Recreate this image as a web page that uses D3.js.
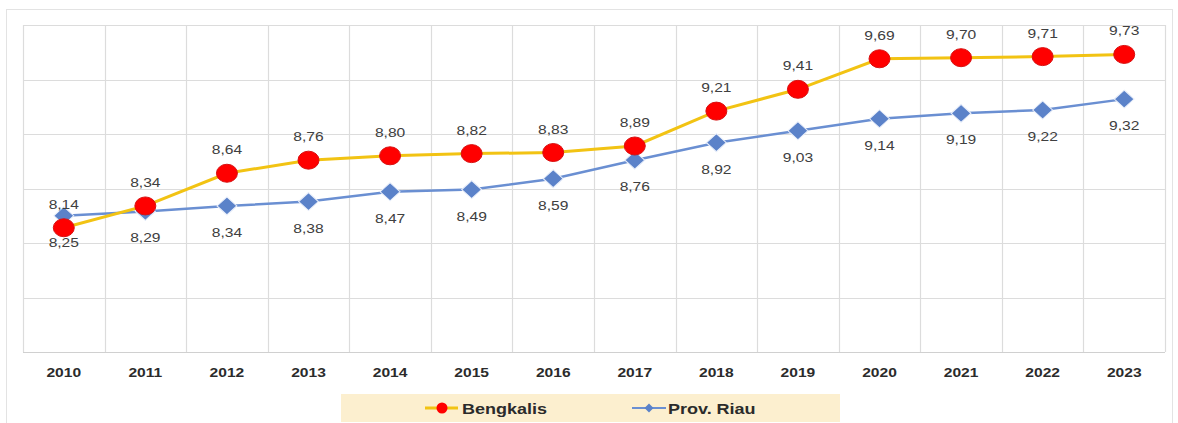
<!DOCTYPE html>
<html>
<head>
<meta charset="utf-8">
<script src="https://cdn.jsdelivr.net/npm/d3@7/dist/d3.min.js"></script>
<style>
  html, body { margin: 0; padding: 0; background: #ffffff; }
  svg { display: block; }
</style>
</head>
<body>
<svg id="chart" width="1178" height="423"></svg>
<script>
// Years on the x axis
const years = ["2010","2011","2012","2013","2014","2015","2016","2017","2018","2019","2020","2021","2022","2023"];
// Series values
const bengkalis = [8.14, 8.34, 8.64, 8.76, 8.80, 8.82, 8.83, 8.89, 9.21, 9.41, 9.69, 9.70, 9.71, 9.73];
const riau      = [8.25, 8.29, 8.34, 8.38, 8.47, 8.49, 8.59, 8.76, 8.92, 9.03, 9.14, 9.19, 9.22, 9.32];
// Hidden value axis gridlines
const yTicks = [7.0, 7.5, 8.0, 8.5, 9.0, 9.5, 10.0];
const seriesNames = ["Bengkalis", "Prov. Riau"];

const svg = d3.select("#chart");
const plot = { left: 23, right: 1165, top: 25, bottom: 352 };
const SX = 1.2; // horizontal text stretch

const x = d3.scaleBand().domain(years).range([plot.left, plot.right]).padding(0);
const y = d3.scaleLinear().domain([7, 10]).range([plot.bottom, plot.top]);
const cx = d => x(d) + x.bandwidth() / 2;
const fmt = v => d3.format(".2f")(v).replace(".", ",");

// outer frame
svg.append("rect").attr("x", 6.5).attr("y", 9.5).attr("width", 1166).attr("height", 430)
  .attr("fill", "none").attr("stroke", "#e3e3e3").attr("stroke-width", 1);

// horizontal gridlines
svg.append("g").selectAll("line").data(yTicks).join("line")
  .attr("x1", plot.left).attr("x2", plot.right)
  .attr("y1", d => Math.round(y(d)) + 0.5).attr("y2", d => Math.round(y(d)) + 0.5)
  .attr("stroke", "#dcdcdc").attr("stroke-width", 1.2);

// vertical category gridlines
const bounds = years.map(d => x(d)).concat([plot.right]);
svg.append("g").selectAll("line").data(bounds).join("line")
  .attr("x1", d => Math.round(d) + 0.5).attr("x2", d => Math.round(d) + 0.5)
  .attr("y1", plot.top).attr("y2", plot.bottom)
  .attr("stroke", "#dcdcdc").attr("stroke-width", 1.2);

// x axis baseline
svg.append("line").attr("x1", plot.left).attr("x2", plot.right)
  .attr("y1", plot.bottom + 0.5).attr("y2", plot.bottom + 0.5)
  .attr("stroke", "#d0d0d0").attr("stroke-width", 1.2);

// x axis labels
const xAxis = d3.axisBottom(x).tickSize(0).tickPadding(0);
const gx = svg.append("g").attr("transform", `translate(0,${plot.bottom})`).call(xAxis);
gx.select(".domain").remove();
gx.selectAll(".tick text").remove();
gx.selectAll(".tick").append("text")
  .attr("transform", `translate(0,25) scale(${SX},1)`)
  .attr("text-anchor", "middle")
  .attr("font-family", "Liberation Sans, Arial, sans-serif")
  .attr("font-size", 13).attr("font-weight", "bold")
  .attr("fill", "#2b2b2b")
  .text(d => d);

const line = d3.line().x((d, i) => cx(years[i])).y(d => y(d));

// Prov. Riau line
svg.append("path").datum(riau).attr("d", line)
  .attr("fill", "none").attr("stroke", "#6a8fd2").attr("stroke-width", 2.5);
// Bengkalis line
svg.append("path").datum(bengkalis).attr("d", line)
  .attr("fill", "none").attr("stroke", "#f2c313").attr("stroke-width", 3);

// diamond markers
const diamond = (s) => `M0,${-s}L${s},0L0,${s}L${-s},0Z`;
svg.append("g").selectAll("path").data(riau).join("path")
  .attr("transform", (d, i) => `translate(${cx(years[i])},${y(d)}) scale(1.1,1)`)
  .attr("d", diamond(9))
  .attr("fill", "#5b82c9").attr("stroke", "#e8eefa").attr("stroke-width", 1);

// circle markers
svg.append("g").selectAll("ellipse").data(bengkalis).join("ellipse")
  .attr("cx", (d, i) => cx(years[i])).attr("cy", d => y(d))
  .attr("rx", 10.5).attr("ry", 9)
  .attr("fill", "#ff0000").attr("stroke", "#d81010").attr("stroke-width", 1);

// data labels
const labelFont = "Liberation Sans, Arial, sans-serif";
svg.append("g").selectAll("text").data(bengkalis).join("text")
  .attr("transform", (d, i) => `translate(${cx(years[i])},${y(d) - 19}) scale(${SX},1)`)
  .attr("text-anchor", "middle")
  .attr("font-family", labelFont).attr("font-size", 13)
  .attr("fill", "#404040")
  .text(d => fmt(d));
svg.append("g").selectAll("text").data(riau).join("text")
  .attr("transform", (d, i) => `translate(${cx(years[i])},${y(d) + 31}) scale(${SX},1)`)
  .attr("text-anchor", "middle")
  .attr("font-family", labelFont).attr("font-size", 13)
  .attr("fill", "#404040")
  .text(d => fmt(d));

// legend
const lg = svg.append("g");
lg.append("rect").attr("x", 341).attr("y", 394).attr("width", 499).attr("height", 28)
  .attr("fill", "#fcefcf");
// Bengkalis entry
lg.append("line").attr("x1", 425).attr("x2", 458).attr("y1", 408).attr("y2", 408)
  .attr("stroke", "#f2c313").attr("stroke-width", 3);
lg.append("circle").attr("cx", 442).attr("cy", 408).attr("r", 5.5).attr("fill", "#ff0000");
lg.append("text").attr("transform", `translate(462,414) scale(${SX},1)`)
  .attr("font-family", labelFont).attr("font-size", 15).attr("font-weight", "bold")
  .attr("fill", "#2b2b2b").text(seriesNames[0]);
// Prov. Riau entry
lg.append("line").attr("x1", 632).attr("x2", 666).attr("y1", 408).attr("y2", 408)
  .attr("stroke", "#6a8fd2").attr("stroke-width", 2);
lg.append("path").attr("transform", "translate(649,408)").attr("d", diamond(4.5))
  .attr("fill", "#5b82c9");
lg.append("text").attr("transform", `translate(668,414) scale(${SX},1)`)
  .attr("font-family", labelFont).attr("font-size", 15).attr("font-weight", "bold")
  .attr("fill", "#2b2b2b").text(seriesNames[1]);
</script>
</body>
</html>
